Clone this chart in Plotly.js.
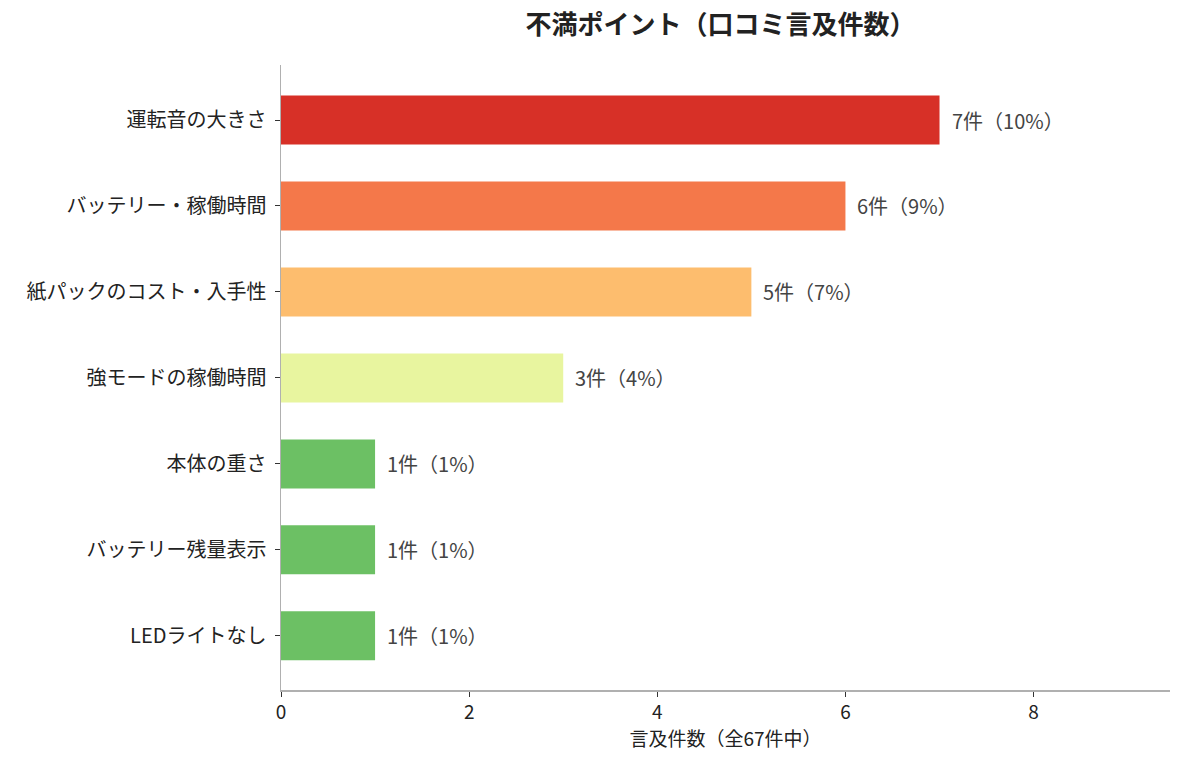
<!DOCTYPE html>
<html>
<head>
<meta charset="utf-8">
<script src="https://cdn.plot.ly/plotly-3.0.1.min.js"></script>
<style>
  html, body { margin: 0; padding: 0; background: #fff; }
  #plotter { width: 1185px; height: 769px; }
</style>
</head>
<body>
<div id="plotter"></div>
<script>
// complaint categories, top to bottom
var categories = [
    '運転音の大きさ',
    'バッテリー・稼働時間',
    '紙パックのコスト・入手性',
    '強モードの稼働時間',
    '本体の重さ',
    'バッテリー残量表示',
    'LEDライトなし'
];
var counts = [7, 6, 5, 3, 1, 1, 1];
var percents = [10, 9, 7, 4, 1, 1, 1];
var barColors = ['#d73027', '#f4784a', '#fdbd6e', '#e8f59f', '#6cc064', '#6cc064', '#6cc064'];
var xTicks = [0, 2, 4, 6, 8];

var font = '"Noto Sans CJK JP", "Noto Sans", sans-serif';

var labels = [];
for (var i in counts) {
    labels.push(counts[i] + '件（' + percents[i] + '%）');
}

var plots = [{
    type: 'bar',
    orientation: 'h',
    x: counts,
    y: categories,
    width: 0.57,
    marker: { color: barColors, line: { width: 0 } },
    hoverinfo: 'none'
}];

var notes = [];
for (var i in counts) {
    notes.push({
        x: counts[i],
        y: categories[i],
        xref: 'x',
        yref: 'y',
        text: labels[i],
        showarrow: false,
        xanchor: 'left',
        xshift: 10,
        font: { family: font, size: 20, color: '#444444' }
    });
}

var layout = {
    width: 1185,
    height: 769,
    paper_bgcolor: '#ffffff',
    plot_bgcolor: '#ffffff',
    showlegend: false,
    font: { family: font, color: '#222222' },
    title: {
        text: '<b>不満ポイント（口コミ言及件数）</b>',
        font: { family: font, size: 26, color: '#222222' },
        x: 0.608,
        xanchor: 'center',
        y: 0.967,
        yanchor: 'middle'
    },
    xaxis: {
        range: [0, 9.45],
        tickvals: xTicks,
        ticktext: xTicks.map(String),
        showgrid: false,
        zeroline: false,
        showline: true,
        linecolor: '#b0b0b0',
        linewidth: 1.5,
        ticks: 'outside',
        ticklen: 5,
        tickcolor: '#333333',
        tickfont: { family: font, size: 19, color: '#222222' },
        title: {
            text: '言及件数（全67件中）',
            font: { family: font, size: 19, color: '#222222' },
            standoff: 6
        }
    },
    yaxis: {
        type: 'category',
        categoryorder: 'array',
        categoryarray: categories,
        range: [6.63, -0.64],
        showgrid: false,
        zeroline: false,
        showline: true,
        linecolor: '#b0b0b0',
        linewidth: 1.5,
        ticks: 'outside',
        ticklen: 5,
        tickcolor: '#333333',
        ticklabelstandoff: 4,
        tickfont: { family: font, size: 20, color: '#222222' }
    },
    annotations: notes,
    margin: { l: 281, r: 15, t: 65, b: 79 }
};

Plotly.newPlot('plotter', plots, layout, { displayModeBar: false, staticPlot: true });
</script>
</body>
</html>
